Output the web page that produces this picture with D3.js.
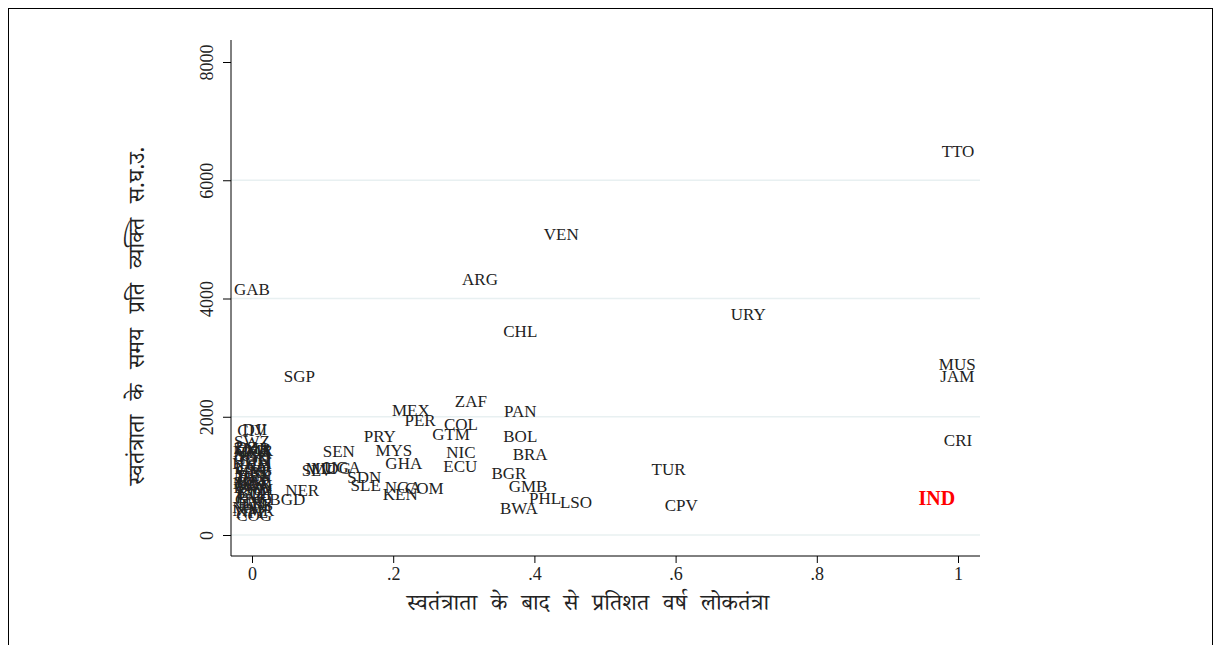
<!DOCTYPE html>
<html>
<head>
<meta charset="utf-8">
<script src="https://cdn.jsdelivr.net/npm/d3@7"></script>
<style>
  html, body { margin: 0; padding: 0; background: #fff; }
  svg { display: block; }
  .tick text { font-family: "Liberation Serif", "DejaVu Serif", serif; }
</style>
</head>
<body>
<svg id="chart" width="1216" height="645"></svg>
<script>
// Share of post-independence years spent as a democracy vs. GDP per capita at independence
const countries = [
  "TTO","VEN","ARG","GAB","URY","CHL","MUS","JAM","SGP","ZAF","PAN","MEX","PER","COL","GTM",
  "PRY","BOL","CRI","SEN","MYS","NIC","BRA","GHA","ECU","TUR","SLV","MLI","MDG","UGA","BGR",
  "SDN","GMB","NGA","COM","SLE","KEN","NER","PHL","LSO","BWA","CPV","BGD",
  "CIV","DJI","SWZ","ZMB","CMR","MOZ","TZA","AGO","TGO","COD","GIN","KHM","TCD","LAO","GNB",
  "MRT","BEN","IDN","CAF","BFA","MWI","RWA","VNM","BDI","ETH","PAK","GNQ","HTI","ERI","NAM",
  "MMR","NPL","COG","DZA","TUN","MAR"
];
const democracyShare = [
  1.0, 0.438, 0.323, 0.0, 0.703, 0.38, 0.999, 0.999, 0.067, 0.31, 0.38, 0.225, 0.238, 0.296, 0.282,
  0.181, 0.38, 1.0, 0.123, 0.201, 0.296, 0.394, 0.215, 0.295, 0.59, 0.092, 0.098, 0.112, 0.128, 0.364,
  0.159, 0.391, 0.214, 0.244, 0.161, 0.21, 0.071, 0.415, 0.459, 0.378, 0.608, 0.050,
  0.0, 0.004, 0.0, 0.0, 0.003, 0.0, 0.004, 0.0, 0.002, 0.0, 0.004, 0.0, 0.002, 0.0, 0.003,
  0.0, 0.004, 0.0, 0.002, 0.0, 0.003, 0.0, 0.002, 0.0, 0.004, 0.0, 0.002, 0.0, 0.004, 0.0,
  0.002, 0.0, 0.003, 0.001, 0.002, 0.0
];
const gdpAtIndependence = [
  6495, 5090, 4330, 4160, 3738, 3450, 2892, 2689, 2689, 2266, 2097, 2114, 1945, 1877, 1708,
  1674, 1674, 1607, 1421, 1438, 1404, 1370, 1218, 1167, 1116, 1095, 1125, 1130, 1150, 1049,
  981, 829, 812, 795, 846, 693, 761, 626, 558, 457, 507, 609,
  1775, 1790, 1590, 1470, 1445, 1420, 1395, 1370, 1330, 1300, 1260, 1220, 1180, 1140, 1100,
  1060, 1010, 970, 930, 890, 850, 810, 770, 730, 690, 650, 610, 560, 520, 470,
  420, 380, 340, 1490, 1000, 880
];
// India, highlighted
const highlightName = "IND";
const highlightX = 0.97;
const highlightY = 626;

const xTicks = [0, 0.2, 0.4, 0.6, 0.8, 1];
const xTickLabels = ["0", ".2", ".4", ".6", ".8", "1"];
const yTicks = [0, 2000, 4000, 6000, 8000];
const yGrid = [0, 2000, 4000, 6000];

const xTitle = "स्वतंत्राता के बाद से प्रतिशत वर्ष लोकतंत्रा";
const yTitle = "स्वतंत्राता के समय प्रति व्यक्ति स.घ.उ.";

const plot = { left: 231, right: 980, top: 40, bottom: 556 };
const serif = '"Liberation Serif", "DejaVu Serif", serif';
const deva = '"Noto Serif Devanagari", "Noto Sans Devanagari", "Lohit Devanagari", "FreeSerif", "Noto Sans", serif';

const svg = d3.select("#chart");

// outer graph-region frame
svg.append("rect")
  .attr("x", 8.5).attr("y", 8.5)
  .attr("width", 1204).attr("height", 700)
  .attr("fill", "none").attr("stroke", "#000").attr("stroke-width", 1);

const x = d3.scaleLinear().domain([0, 1]).range([252, 958]);
const y = d3.scaleLinear().domain([0, 8000]).range([535, 62]);

// horizontal grid lines
svg.append("g").selectAll("line")
  .data(yGrid)
  .join("line")
  .attr("x1", plot.left).attr("x2", plot.right)
  .attr("y1", d => y(d)).attr("y2", d => y(d))
  .attr("stroke", "#e8f0f1").attr("stroke-width", 1.6);

// y axis
const yAxis = svg.append("g")
  .attr("transform", `translate(${plot.left},0)`)
  .call(d3.axisLeft(y).tickValues(yTicks).tickFormat(d3.format("d")).tickSize(8).tickSizeOuter(0));
yAxis.select(".domain").remove();
yAxis.selectAll(".tick line").attr("stroke", "#000");
yAxis.selectAll(".tick text")
  .attr("font-size", 18).attr("fill", "#222")
  .attr("text-anchor", "middle")
  .attr("x", 0).attr("y", 0).attr("dy", 0)
  .attr("transform", "translate(-18,0) rotate(-90)");
yAxis.append("line")
  .attr("x1", 0).attr("x2", 0).attr("y1", plot.top).attr("y2", plot.bottom)
  .attr("stroke", "#000").attr("stroke-width", 1);

// x axis
const xAxis = svg.append("g")
  .attr("transform", `translate(0,${plot.bottom})`)
  .call(d3.axisBottom(x).tickValues(xTicks).tickFormat((d, i) => xTickLabels[i]).tickSize(7).tickSizeOuter(0));
xAxis.select(".domain").remove();
xAxis.selectAll(".tick line").attr("stroke", "#000");
xAxis.selectAll(".tick text").attr("font-size", 18).attr("fill", "#222").attr("y", 11);
xAxis.append("line")
  .attr("x1", plot.left).attr("x2", plot.right).attr("y1", 0).attr("y2", 0)
  .attr("stroke", "#000").attr("stroke-width", 1);

// axis titles
svg.append("text")
  .attr("x", 588).attr("y", 606)
  .attr("text-anchor", "middle").attr("dominant-baseline", "central")
  .attr("font-family", deva).attr("font-size", 23).attr("word-spacing", 8).attr("fill", "#222")
  .text(xTitle);
svg.append("text")
  .attr("transform", "translate(140,316) rotate(-90)")
  .attr("text-anchor", "middle").attr("dominant-baseline", "central")
  .attr("font-family", deva).attr("font-size", 23).attr("word-spacing", 9).attr("fill", "#222")
  .text(yTitle);

// country labels centred on their points
const pts = countries.map((c, i) => ({ c, x: democracyShare[i], y: gdpAtIndependence[i] }));
svg.append("g").selectAll("text")
  .data(pts)
  .join("text")
  .attr("x", d => x(d.x)).attr("y", d => y(d.y))
  .attr("dy", "0.35em")
  .attr("text-anchor", "middle")
  .attr("font-family", serif).attr("font-size", 17).attr("fill", "#222")
  .text(d => d.c);

svg.append("text")
  .attr("x", x(highlightX)).attr("y", y(highlightY))
  .attr("dy", "0.35em")
  .attr("text-anchor", "middle")
  .attr("font-family", serif).attr("font-size", 20).attr("font-weight", "bold").attr("fill", "#ff0000")
  .text(highlightName);
</script>
</body>
</html>
